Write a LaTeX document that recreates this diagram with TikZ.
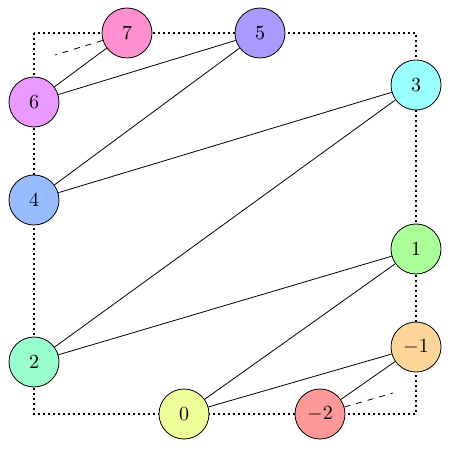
\documentclass[tikz,border=0pt]{standalone}
\begin{document}
\begin{tikzpicture}[x=0.5pt,y=-0.5pt,
  vtx/.style={circle,draw,minimum size=25pt,inner sep=0pt},
  edge/.style={draw},
  frame/.style={draw,line width=0.8pt,dash pattern=on 0.8pt off 1.7pt},
  stub/.style={draw,dashed}]
\useasboundingbox (0,0) rectangle (450,449);
\definecolor{c7}{HTML}{FF8FD0}
\definecolor{c5}{HTML}{AA99FF}
\definecolor{c6}{HTML}{EA99FF}
\definecolor{c3}{HTML}{99FFFF}
\definecolor{c4}{HTML}{99BBFF}
\definecolor{c1}{HTML}{AAFF99}
\definecolor{c2}{HTML}{99FFCC}
\definecolor{cm1}{HTML}{FFD699}
\definecolor{c0}{HTML}{EEFF99}
\definecolor{cm2}{HTML}{FF9999}
\draw[frame] (34,33) rectangle (416,414);
\node[vtx,fill=c7] (n7) at (127,33) {$7$};
\node[vtx,fill=c5] (n5) at (260,33) {$5$};
\node[vtx,fill=c6] (n6) at (34,102) {$6$};
\node[vtx,fill=c3] (n3) at (416,85) {$3$};
\node[vtx,fill=c4] (n4) at (34,200) {$4$};
\node[vtx,fill=c1] (n1) at (416,249) {$1$};
\node[vtx,fill=c2] (n2) at (34,362) {$2$};
\node[vtx,fill=cm1] (nm1) at (416,347) {$-1$};
\node[vtx,fill=c0] (n0) at (184,414) {$0$};
\node[vtx,fill=cm2] (nm2) at (320,414) {$-2$};
\coordinate (s7) at (55,55);
\coordinate (sm2) at (393,393);
\draw[stub] (n7) -- (s7);
\draw[stub] (nm2) -- (sm2);
\draw[edge] (n7) -- (n6);
\draw[edge] (n5) -- (n6);
\draw[edge] (n5) -- (n4);
\draw[edge] (n3) -- (n4);
\draw[edge] (n3) -- (n2);
\draw[edge] (n1) -- (n2);
\draw[edge] (n1) -- (n0);
\draw[edge] (nm1) -- (n0);
\draw[edge] (nm1) -- (nm2);
\end{tikzpicture}
\end{document}
